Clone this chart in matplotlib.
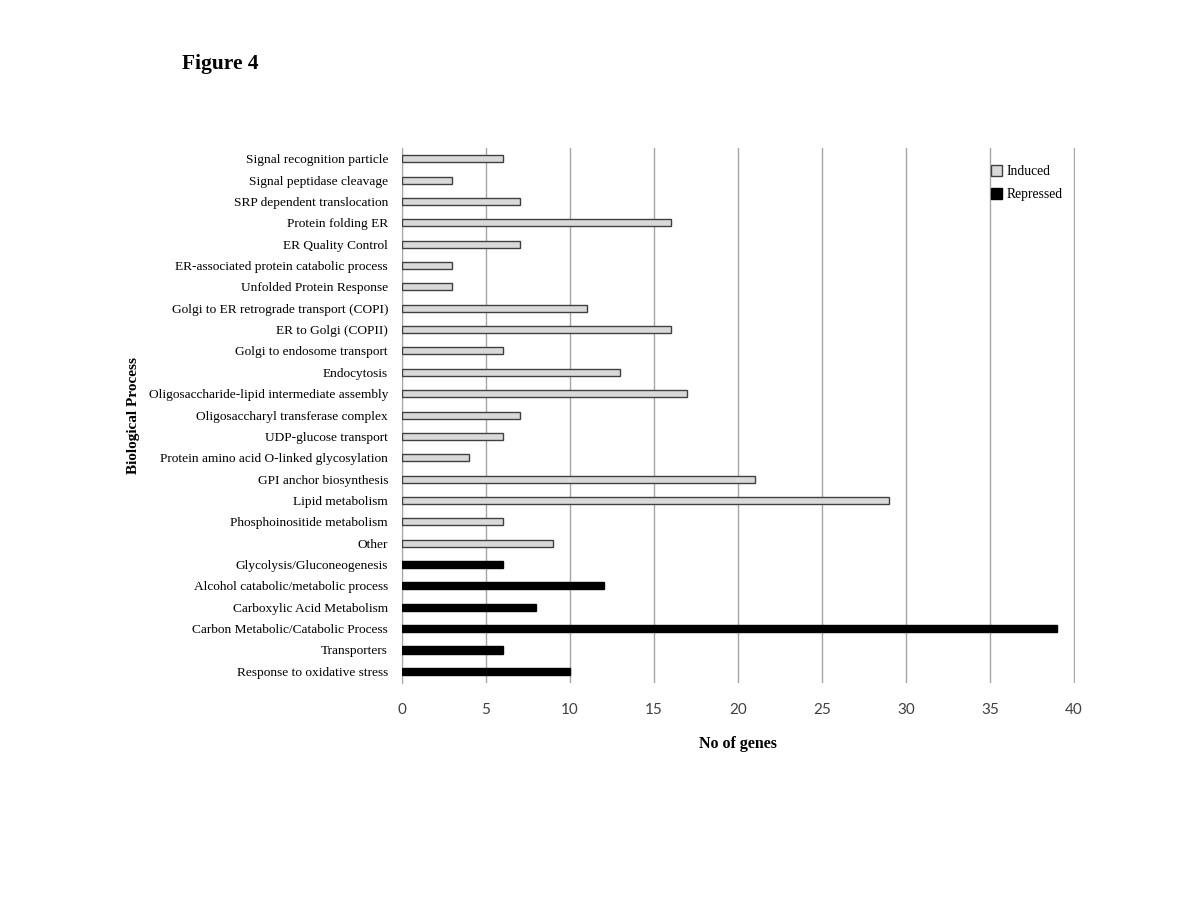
import numpy as np
import matplotlib
matplotlib.use('Agg')
import matplotlib.pyplot as plt
from matplotlib.patches import Patch

# categories top to bottom
categories = [
    'Signal recognition particle',
    'Signal peptidase cleavage',
    'SRP dependent translocation',
    'Protein folding ER',
    'ER Quality Control',
    'ER-associated protein catabolic process',
    'Unfolded Protein Response',
    'Golgi to ER retrograde transport (COPI)',
    'ER to Golgi (COPII)',
    'Golgi to endosome transport',
    'Endocytosis',
    'Oligosaccharide-lipid intermediate assembly',
    'Oligosaccharyl transferase complex',
    'UDP-glucose transport',
    'Protein amino acid O-linked glycosylation',
    'GPI anchor biosynthesis',
    'Lipid metabolism',
    'Phosphoinositide metabolism',
    'Other',
    'Glycolysis/Gluconeogenesis',
    'Alcohol catabolic/metabolic process',
    'Carboxylic Acid Metabolism',
    'Carbon Metabolic/Catabolic Process',
    'Transporters',
    'Response to oxidative stress',
]
n_genes = [6, 3, 7, 16, 7, 3, 3, 11, 16, 6, 13, 17, 7, 6, 4, 21, 29, 6, 9,
           6, 12, 8, 39, 6, 10]
group = ['Induced'] * 19 + ['Repressed'] * 6

xticks = [0, 5, 10, 15, 20, 25, 30, 35, 40]

serif = ['Liberation Serif', 'DejaVu Serif']

fig = plt.figure(figsize=(12, 9), dpi=100)
ax = fig.add_axes([0.335, 0.241, 0.5605, 0.595])

y = np.arange(len(categories))
for i in range(len(categories)):
    if group[i] == 'Induced':
        ax.barh(y[i], n_genes[i], height=0.33, color='#d9d9d9',
                edgecolor='#404040', linewidth=1.0, zorder=3)
    else:
        ax.barh(y[i], n_genes[i], height=0.33, color='black',
                edgecolor='black', linewidth=1.0, zorder=3)

ax.set_xlim(0, 40.05)
ax.set_ylim(len(categories) - 0.45, -0.52)
ax.set_xticks(xticks)
ax.set_yticks(y)
ax.set_yticklabels(categories, family=serif, fontsize=9.6)
ax.tick_params(axis='y', length=0, pad=10)
ax.tick_params(axis='x', length=0, pad=14, labelsize=11, labelcolor='#404040')
for lab in ax.get_xticklabels():
    lab.set_family(['Lato', 'DejaVu Sans'])

ax.grid(axis='x', color='#a6a6a6', linewidth=1, zorder=0)
for s in ['top', 'right', 'bottom']:
    ax.spines[s].set_visible(False)
ax.spines['left'].set_color('#a6a6a6')

ax.set_xlabel('No of genes', family=serif, fontsize=11.5, fontweight='bold', labelpad=14)
ax.set_ylabel('Biological Process', family=serif, fontsize=11, fontweight='bold', labelpad=6)

handles = [Patch(facecolor='#d9d9d9', edgecolor='#404040', label='Induced'),
           Patch(facecolor='black', edgecolor='black', label='Repressed')]
leg = ax.legend(handles=handles, loc='upper right', frameon=False,
                prop={'family': serif, 'size': 9.8}, handlelength=0.8,
                handleheight=0.8, handletextpad=0.3, labelspacing=0.75,
                bbox_to_anchor=(1.0, 0.99))

fig.text(0.152, 0.923, 'Figure 4', family=serif, fontsize=15.5, fontweight='bold')

fig.savefig('out.png', dpi=100, facecolor='white')
